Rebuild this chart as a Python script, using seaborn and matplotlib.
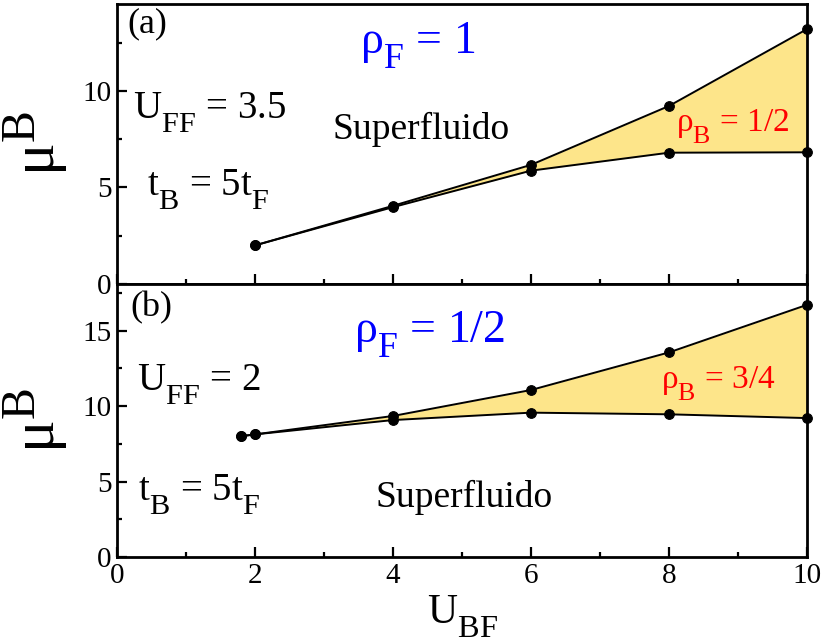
import numpy as np
import pandas as pd
import matplotlib
matplotlib.use("Agg")
import matplotlib.pyplot as plt
from matplotlib.ticker import MultipleLocator
import matplotlib._mathtext as mathtext_engine
import seaborn as sns

# Phase boundaries, panel (a): rho_F = 1, U_FF = 3.5
u_bf_a = [2, 4, 6, 8, 10]
mu_upper_a = [2.0, 4.05, 6.17, 9.22, 13.2]
mu_lower_a = [2.0, 3.98, 5.87, 6.80, 6.82]

# Phase boundaries, panel (b): rho_F = 1/2, U_FF = 2
u_bf_b = [1.8, 2, 4, 6, 8, 10]
mu_upper_b = [8.0, 8.12, 9.34, 11.06, 13.55, 16.7]
mu_lower_b = [8.0, 8.12, 9.07, 9.56, 9.45, 9.2]

x_ticks = [0, 2, 4, 6, 8, 10]
y_ticks_a = [0, 5, 10]
y_ticks_b = [0, 5, 10, 15]

# Larger, lower subscripts (Grace-like typesetting)
mathtext_engine.SHRINK_FACTOR = 0.78
mathtext_engine.FontConstantsBase.sub1 = 0.75
mathtext_engine.FontConstantsBase.subdrop = 0.6

sns.set_style("ticks")
plt.rcParams["font.family"] = ["Liberation Serif", "DejaVu Serif"]
plt.rcParams["mathtext.fontset"] = "custom"
plt.rcParams["mathtext.rm"] = "Liberation Serif"
plt.rcParams["mathtext.it"] = "Liberation Serif"
plt.rcParams["mathtext.default"] = "rm"
for key in ("text.color", "axes.labelcolor", "xtick.color", "ytick.color",
            "axes.edgecolor"):
    plt.rcParams[key] = "black"

FILL = "#FDE58A"

fig = plt.figure(figsize=(8.22, 6.43), dpi=100)
W, H = 822, 643
ax1 = fig.add_axes([117 / W, 1 - 284 / H, 690 / W, 280 / H])
ax2 = fig.add_axes([117 / W, 1 - 557 / H, 690 / W, 273 / H])


def draw_panel(ax, x, upper, lower):
    ax.fill_between(x, lower, upper, color=FILL, zorder=1, linewidth=0)
    for y in (upper, lower):
        df = pd.DataFrame({"U_BF": x, "mu": y})
        sns.lineplot(data=df, x="U_BF", y="mu", ax=ax, color="black",
                     marker="o", markersize=7, markeredgecolor="black",
                     linewidth=1.4, sort=False, zorder=3, clip_on=False)


def style_axes(ax, ymax, yticks):
    ax.set_xlim(0, 10)
    ax.set_ylim(0, ymax)
    ax.set_xticks(x_ticks)
    ax.set_yticks(yticks)
    ax.xaxis.set_minor_locator(MultipleLocator(1))
    ax.yaxis.set_minor_locator(MultipleLocator(2.5))
    ax.tick_params(which="both", direction="in", top=False, right=False,
                   width=1.6, labelsize=21, pad=4, colors="black")
    ax.tick_params(which="major", length=7)
    ax.tick_params(which="minor", length=3.5)
    for s in ax.spines.values():
        s.set_linewidth(2.0)
        s.set_color("black")
    ax.set_xlabel("")
    ax.set_ylabel("")


draw_panel(ax1, u_bf_a, mu_upper_a, mu_lower_a)
draw_panel(ax2, u_bf_b, mu_upper_b, mu_lower_b)
style_axes(ax1, 14.5, y_ticks_a)
style_axes(ax2, 18.08, y_ticks_b)
ax1.set_xticklabels([])

# Axis labels
ax1.set_ylabel(r"μ$^{\rm B}$", fontsize=44, labelpad=0)
ax2.set_ylabel(r"μ$^{\rm B}$", fontsize=44, labelpad=0)
ax1.yaxis.set_label_coords(-0.066, 0.5)
ax2.yaxis.set_label_coords(-0.066, 0.5)
ax2.set_xlabel(r"U$_{\rm BF}$", fontsize=30, labelpad=4)

# Panel (a) annotations
ax1.text(0.145, 13.46, "(a)", fontsize=26, ha="left", va="center")
ax1.text(3.52, 12.33, r"ρ$_{\rm F}$ = 1", fontsize=33, color="blue",
         ha="left", va="center")
ax1.text(0.23, 8.86, r"U$_{\rm FF}$ = 3.5", fontsize=28, ha="left", va="center")
ax1.text(0.43, 4.87, r"t$_{\rm B}$ = 5t$_{\rm F}$", fontsize=28, ha="left",
         va="center")
ax1.text(3.12, 8.03, "Superfluido", fontsize=27, ha="left", va="center")
ax1.text(8.10, 8.18, r"ρ$_{\rm B}$ = 1/2", fontsize=24, color="red",
         ha="left", va="center")

# Panel (b) annotations
ax2.text(0.19, 16.5, "(b)", fontsize=26, ha="left", va="center")
ax2.text(3.43, 14.7, r"ρ$_{\rm F}$ = 1/2", fontsize=33, color="blue",
         ha="left", va="center")
ax2.text(0.29, 11.4, r"U$_{\rm FF}$ = 2", fontsize=28, ha="left", va="center")
ax2.text(0.30, 4.1, r"t$_{\rm B}$ = 5t$_{\rm F}$", fontsize=28, ha="left",
         va="center")
ax2.text(3.74, 3.97, "Superfluido", fontsize=27, ha="left", va="center")
ax2.text(7.88, 11.5, r"ρ$_{\rm B}$ = 3/4", fontsize=24, color="red",
         ha="left", va="center")

fig.savefig("out.png", dpi=100)
